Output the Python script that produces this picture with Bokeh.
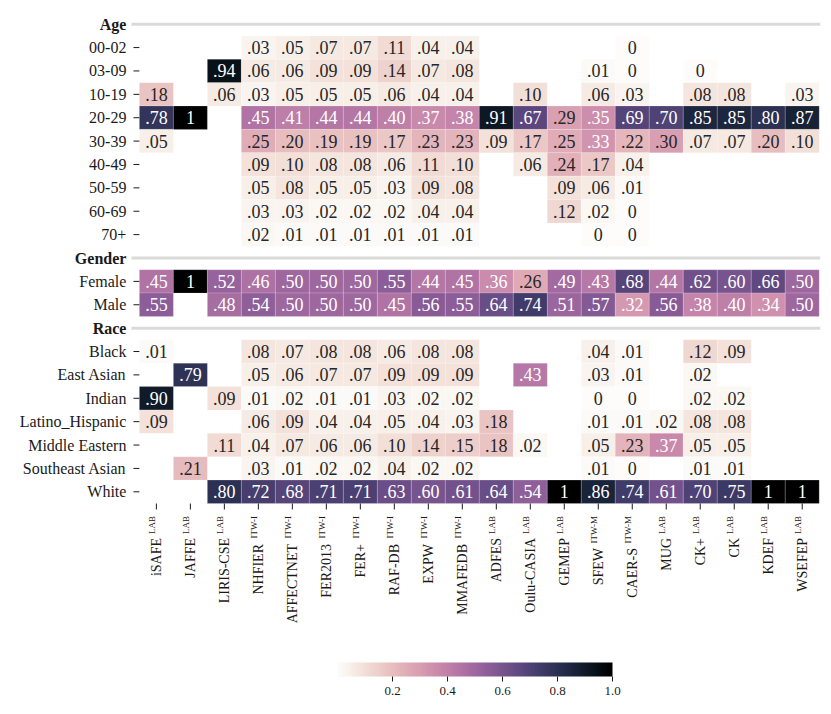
import numpy as np
from bokeh.plotting import figure
from bokeh.models import (ColumnDataSource, FixedTicker, LinearColorMapper,
                          ColorBar, Range1d, PrintfTickFormatter)
from bokeh.transform import transform
from bokeh.embed import file_html
from bokeh.resources import INLINE
from bokeh.core.properties import value

N = None

datasets = ["iSAFE", "JAFFE", "LIRIS-CSE", "NHFIER", "AFFECTNET", "FER2013", "FER+",
            "RAF-DB", "EXPW", "MMAFEDB", "ADFES", "Oulu-CASIA", "GEMEP", "SFEW",
            "CAER-S", "MUG", "CK+", "CK", "KDEF", "WSEFEP"]
dataset_tags = ["LAB", "LAB", "LAB", "ITW-I", "ITW-I", "ITW-I", "ITW-I", "ITW-I", "ITW-I",
                "ITW-I", "LAB", "LAB", "LAB", "ITW-M", "ITW-M", "LAB", "LAB", "LAB", "LAB", "LAB"]

age_labels = ["00-02", "03-09", "10-19", "20-29", "30-39", "40-49", "50-59", "60-69", "70+"]
age_00_02 = [N, N, N, .03, .05, .07, .07, .11, .04, .04, N, N, N, N, 0, N, N, N, N, N]
age_03_09 = [N, N, .94, .06, .06, .09, .09, .14, .07, .08, N, N, N, .01, 0, N, 0, N, N, N]
age_10_19 = [.18, N, .06, .03, .05, .05, .05, .06, .04, .04, N, .10, N, .06, .03, N, .08, .08, N, .03]
age_20_29 = [.78, 1, N, .45, .41, .44, .44, .40, .37, .38, .91, .67, .29, .35, .69, .70, .85, .85, .80, .87]
age_30_39 = [.05, N, N, .25, .20, .19, .19, .17, .23, .23, .09, .17, .25, .33, .22, .30, .07, .07, .20, .10]
age_40_49 = [N, N, N, .09, .10, .08, .08, .06, .11, .10, N, .06, .24, .17, .04, N, N, N, N, N]
age_50_59 = [N, N, N, .05, .08, .05, .05, .03, .09, .08, N, N, .09, .06, .01, N, N, N, N, N]
age_60_69 = [N, N, N, .03, .03, .02, .02, .02, .04, .04, N, N, .12, .02, 0, N, N, N, N, N]
age_70_up = [N, N, N, .02, .01, .01, .01, .01, .01, .01, N, N, N, 0, 0, N, N, N, N, N]

gender_labels = ["Female", "Male"]
gender_female = [.45, 1, .52, .46, .50, .50, .50, .55, .44, .45, .36, .26, .49, .43, .68, .44, .62, .60, .66, .50]
gender_male = [.55, N, .48, .54, .50, .50, .50, .45, .56, .55, .64, .74, .51, .57, .32, .56, .38, .40, .34, .50]

race_labels = ["Black", "East Asian", "Indian", "Latino_Hispanic", "Middle Eastern",
               "Southeast Asian", "White"]
race_black = [.01, N, N, .08, .07, .08, .08, .06, .08, .08, N, N, N, .04, .01, N, .12, .09, N, N]
race_east_asian = [N, .79, N, .05, .06, .07, .07, .09, .09, .09, N, .43, N, .03, .01, N, .02, N, N, N]
race_indian = [.90, N, .09, .01, .02, .01, .01, .03, .02, .02, N, N, N, 0, 0, N, .02, .02, N, N]
race_latino = [.09, N, N, .06, .09, .04, .04, .05, .04, .03, .18, N, N, .01, .01, .02, .08, .08, N, N]
race_middle_eastern = [N, N, .11, .04, .07, .06, .06, .10, .14, .15, .18, .02, N, .05, .23, .37, .05, .05, N, N]
race_southeast_asian = [N, .21, N, .03, .01, .02, .02, .04, .02, .02, N, N, N, .01, 0, N, .01, .01, N, N]
race_white = [N, N, .80, .72, .68, .71, .71, .63, .60, .61, .64, .54, 1, .86, .74, .61, .70, .75, 1, 1]

colorbar_ticks = [0.2, 0.4, 0.6, 0.8, 1.0]

sections = [
    ("Age", age_labels, [age_00_02, age_03_09, age_10_19, age_20_29, age_30_39,
                         age_40_49, age_50_59, age_60_69, age_70_up]),
    ("Gender", gender_labels, [gender_female, gender_male]),
    ("Race", race_labels, [race_black, race_east_asian, race_indian, race_latino,
                           race_middle_eastern, race_southeast_asian, race_white]),
]


# seaborn-like cubehelix colour map (light -> dark)
def cubehelix(n=256, start=-0.4, rot=0.55, gamma=1.0, hue=0.8, light=0.99, dark=0.0):
    xs = np.linspace(light, dark, n)
    out = []
    for x in xs:
        xg = x ** gamma
        a = hue * xg * (1 - xg) / 2
        phi = 2 * np.pi * (start / 3 + rot * x)
        r = xg + a * (-0.14861 * np.cos(phi) + 1.78277 * np.sin(phi))
        g = xg + a * (-0.29227 * np.cos(phi) - 0.90649 * np.sin(phi))
        b = xg + a * (1.97294 * np.cos(phi))
        out.append(np.clip([r, g, b], 0, 1))
    return out


pal_rgb = cubehelix()
palette = ["#%02x%02x%02x" % tuple(int(round(c * 255)) for c in rgb) for rgb in pal_rgb]
mapper = LinearColorMapper(palette=palette, low=0.0, high=1.0)


def rel_lum(rgb):
    rgb = np.asarray(rgb)
    rgb = np.where(rgb <= .03928, rgb / 12.92, ((rgb + .055) / 1.055) ** 2.4)
    return float(rgb.dot([.2126, .7152, .0722]))


def fmt(v):
    if v >= 0.995:
        return "1"
    if v < 0.005:
        return "0"
    return ("%.2f" % v).lstrip("0")


# build rows
xs, ys, vals, texts, tcols = [], [], [], [], []
tick_rows, tick_names = [], []
headers, header_rows = [], []
row = 0
for title, labels, rows in sections:
    headers.append(title)
    header_rows.append(row)
    row += 1
    for lab, data in zip(labels, rows):
        tick_rows.append(row)
        tick_names.append(lab)
        for i, v in enumerate(data):
            if v is None:
                continue
            xs.append(i)
            ys.append(row)
            vals.append(v)
            texts.append(fmt(v))
            k = min(int(v * len(palette)), len(palette) - 1)
            tcols.append("#262626" if rel_lum(pal_rgb[k]) > .408 else "#ffffff")
        row += 1
n_rows = row
n_cols = len(datasets)

src = ColumnDataSource(dict(x=xs, y=ys, v=vals, t=texts, tc=tcols))

FONT = "Liberation Serif"
INK = "#1a1a1a"
CW = 34.385                      # px per column
RH = 491 / n_rows                # px per row
FRAME_H = 640
x_lo = -0.5 - 140.5 / CW         # frame starts at the page's left edge
x_hi = n_cols - 0.5 + 1.3 / CW
y_hi = -0.5 + FRAME_H / RH
cell_left = -0.5
grid_bottom = n_rows - 0.5

p = figure(frame_width=820, frame_height=FRAME_H,
           x_range=Range1d(x_lo, x_hi), y_range=Range1d(y_hi, -0.5),
           output_backend="svg", toolbar_location=None,
           min_border_left=0, min_border_right=3, min_border_top=12, min_border_bottom=4)
p.outline_line_color = None
p.xgrid.visible = False
p.ygrid.visible = False
p.xaxis.visible = False
p.yaxis.visible = False
p.background_fill_color = "white"

p.rect(x="x", y="y", width=1, height=1, source=src,
       fill_color=transform("v", mapper), line_color="white", line_width=0.5, line_alpha=0.35)
p.text(x="x", y="y", text="t", source=src, text_align="center", text_baseline="middle",
       text_font=value(FONT), text_font_size="18px", text_color="tc")

# row labels and tick marks (y axis)
p.segment(x0=[cell_left - 6 / CW] * len(tick_rows), y0=tick_rows,
          x1=[cell_left] * len(tick_rows), y1=tick_rows, line_color=INK, line_width=1)
p.text(x=[cell_left] * len(tick_rows), y=tick_rows, text=tick_names, x_offset=-13,
       text_align="right", text_baseline="middle", text_font=value(FONT),
       text_font_size="16px", text_color=INK)

# header rows: bold label + gray rule
p.segment(x0=[cell_left - 8 / CW] * len(headers), y0=header_rows,
          x1=[x_hi] * len(headers), y1=header_rows, line_color="#d9dbd8", line_width=3)
p.text(x=[cell_left] * len(headers), y=header_rows, text=headers, x_offset=-13,
       text_align="right", text_baseline="middle", text_font=value(FONT),
       text_font_size="16px", text_font_style="bold", text_color=INK)

# column labels and tick marks (x axis), with the raised small tag
cols = list(range(n_cols))
p.segment(x0=cols, y0=[grid_bottom] * n_cols, x1=cols, y1=[grid_bottom + 6 / RH] * n_cols,
          line_color=INK, line_width=1)
tag_len_px = {"LAB": 22, "ITW-I": 28, "ITW-M": 32}
label_top = grid_bottom + 12.5 / RH
p.text(x=[c - 4.5 / CW for c in cols], y=[label_top] * n_cols, text=dataset_tags,
       angle=np.pi / 2, text_align="right", text_baseline="middle",
       text_font=value(FONT), text_font_size="9px", text_color=INK)
p.text(x=cols, y=[label_top + tag_len_px[t] / RH for t in dataset_tags], text=datasets,
       angle=np.pi / 2, text_align="right", text_baseline="middle",
       text_font=value(FONT), text_font_size="14px", text_color=INK)

cb = ColorBar(color_mapper=mapper, orientation="horizontal", width=275, height=14,
              location=(327, 0), ticker=FixedTicker(ticks=colorbar_ticks),
              formatter=PrintfTickFormatter(format="%.1f"),
              major_tick_in=0, major_tick_out=5, major_tick_line_color=INK,
              major_label_text_font=FONT, major_label_text_font_size="13px",
              major_label_text_color=INK, bar_line_color=None, padding=10)
p.add_layout(cb, "below")

open("out.html", "w").write(file_html(p, INLINE))
